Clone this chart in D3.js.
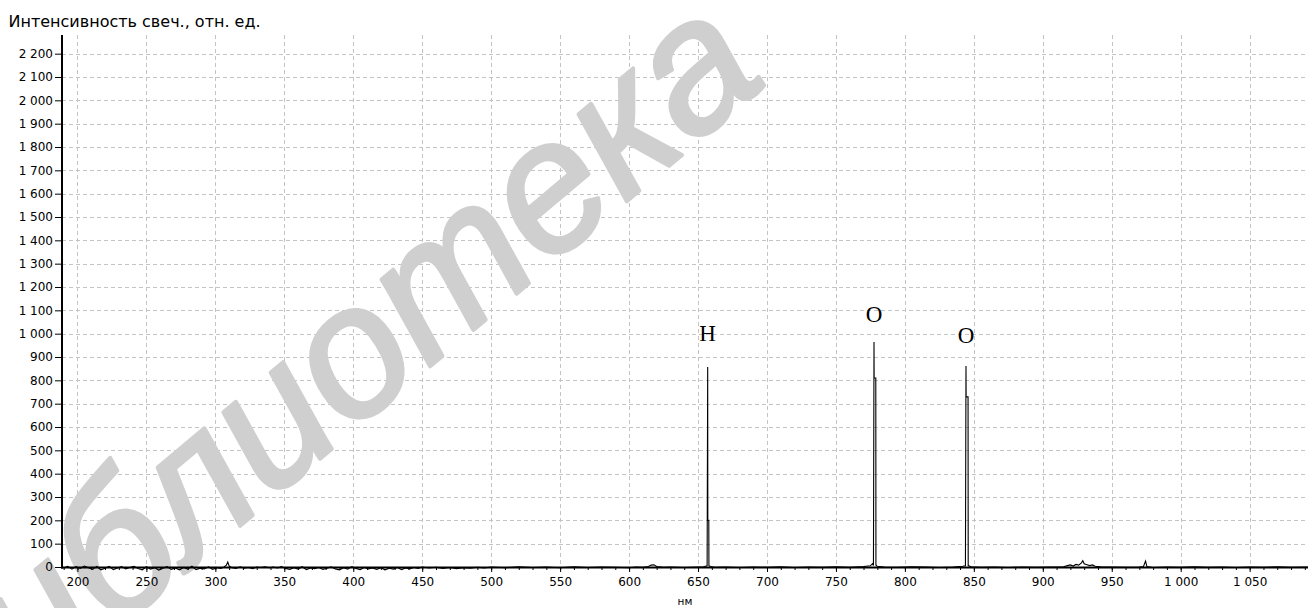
<!DOCTYPE html>
<html>
<head>
<meta charset="utf-8">
<script src="https://cdn.jsdelivr.net/npm/d3@7"></script>
<style>
  html, body { margin: 0; padding: 0; background: #fff; }
  svg { display: block; }
</style>
</head>
<body>
<svg id="chart" width="1315" height="608"></svg>
<script>
// Emission spectrum: wavelength (nm) and relative intensity
const spectrumNm = [
  190, 193, 196, 199, 202, 205, 208, 211, 214, 217, 220, 223, 226, 229, 232, 235, 238, 241, 244, 247,
  250, 253, 256, 259, 262, 265, 268, 271, 274, 277, 280, 283, 286, 289, 292, 295, 298, 301, 304, 306,
  308, 309, 310, 312, 315, 318, 321, 324, 327, 330, 333, 336, 339, 342, 345, 348, 351, 354, 357, 360,
  363, 366, 369, 372, 375, 378, 381, 384, 387, 390, 393, 396, 399, 402, 405, 408, 411, 414, 417, 420,
  423, 426, 429, 432, 435, 438, 441, 444, 447, 450, 455, 460, 465, 470, 475, 480, 485, 490, 495, 500,
  510, 520, 530, 540, 550, 560, 570, 580, 590, 600, 605, 610, 614, 616, 618, 620, 625, 630, 640, 650,
  654, 656.6, 657.0, 657.1, 657.8, 657.9, 659, 662, 670, 680, 690, 700, 710, 720, 730, 740, 750, 760, 770, 775,
  776.5, 777.2, 777.6, 777.7, 778.9, 779.0, 780, 785, 795, 805, 815, 825, 835, 842, 843.9, 844.3, 844.4, 845.8, 845.9, 848,
  855, 865, 875, 885, 895, 905, 915, 918, 920, 922, 924, 926, 928, 929, 930, 932, 934, 936, 938, 942,
  950, 960, 970, 973, 974.5, 975.5, 980, 990, 1000, 1010, 1020, 1030, 1040, 1050, 1060, 1070, 1080, 1092
];
const spectrumI = [
  -4, 3, -9, 2, -6, 4, -3, -10, 2, -12, -5, 3, -11, -4, 2, -8, -2, 3, -6, -12,
  1, -9, -3, -13, -5, 2, -10, -4, -12, -2, -9, 3, -11, -5, -8, 1, -10, -3, -6, -1,
  8, 21, 4, -3, -6, 1, -5, -2, -7, 0, -2, 1, -3, 0, -4, 2, -6, -10, -3, -9,
  1, -11, -4, -7, -2, -10, -5, 1, -8, -12, -3, -9, 2, -6, -11, -2, -8, -4, -10, -3,
  -12, -5, -9, -2, -11, -4, -8, -2, -6, 0, -4, -1, -6, -2, -7, -3, -5, -1, -4, 0,
  -3, 1, -2, 0, -3, 1, -2, 0, -1, -3, 0, -1, 2, 8, 9, 2, -1, 0, -2, 0,
  1, 5, 857, 200, 200, 6, 2, -1, 0, -2, 0, -1, 1, -2, 0, -1, 1, -1, 2, 5,
  14, 6, 964, 810, 810, 8, 3, 0, -1, 1, 0, -2, 0, 3, 5, 861, 729, 729, 6, 1,
  -1, 0, -2, 0, -1, 0, 1, 6, 9, 4, 11, 8, 18, 27, 14, 10, 6, 9, 3, 1,
  0, -1, 0, 2, 25, 2, -2, 0, -1, 1, -1, 0, -2, 0, -1, 1, -1, 0
];

// Identified emission lines
const peakNames = ["H", "O", "O"];
const peakNm = [657.0, 777.6, 844.3];
const peakLabelAt = [970, 1048, 958];

// Axis ticks
const xTicks = [200, 250, 300, 350, 400, 450, 500, 550, 600, 650, 700, 750, 800, 850, 900, 950, 1000, 1050];
const xMinorTicks = d3.range(190, 1091, 10);
const yTicks = [0, 100, 200, 300, 400, 500, 600, 700, 800, 900, 1000, 1100,
                1200, 1300, 1400, 1500, 1600, 1700, 1800, 1900, 2000, 2100, 2200];

const yTitle = "Интенсивность свеч., отн. ед.";
const xTitle = "нм";
const watermark = "библиотека";

const svg = d3.select("#chart");
const plotLeft = 62, plotRight = 1308, plotTop = 35, plotBottom = 567;

const x = d3.scaleLinear().domain([188.8, 1092.3]).range([plotLeft, plotRight]);
const y = d3.scaleLinear().domain([0, 2280]).range([plotBottom, plotTop]);

const ru = d3.formatLocale({ decimal: ",", thousands: "\u00a0", grouping: [3], currency: ["", ""] });
const fmt = ru.format(",d");

const uiFont = "'DejaVu Sans', Verdana, sans-serif";

// Dashed grid
const grid = svg.append("g").attr("stroke", "#c4c4c4").attr("stroke-width", 1)
  .attr("stroke-dasharray", "4,3").attr("shape-rendering", "crispEdges");
grid.selectAll("line.h").data(yTicks.filter(d => d > 0)).join("line")
  .attr("class", "h")
  .attr("x1", plotLeft).attr("x2", plotRight)
  .attr("y1", d => Math.round(y(d)) + 0.5).attr("y2", d => Math.round(y(d)) + 0.5);
grid.selectAll("line.v").data(xTicks).join("line")
  .attr("class", "v")
  .attr("y1", plotTop).attr("y2", plotBottom)
  .attr("x1", d => Math.round(x(d)) + 0.5).attr("x2", d => Math.round(x(d)) + 0.5);

// Library mark across the plot
svg.append("text")
  .attr("transform", "translate(-45,765) rotate(-40)")
  .attr("font-family", "'Liberation Sans', Arial, sans-serif")
  .attr("font-size", 185).attr("font-style", "italic")
  .attr("fill", "#cfcfcf").attr("stroke", "#cfcfcf").attr("stroke-width", 4)
  .attr("stroke-linejoin", "round")
  .text(watermark);

// Spectrum trace
const pts = spectrumNm.map((d, i) => [d, spectrumI[i]]);
svg.append("path")
  .datum(pts)
  .attr("fill", "none").attr("stroke", "#000").attr("stroke-width", 1.1)
  .attr("d", d3.line().x(d => x(d[0])).y(d => y(d[1])));

// Axes
const xAxis = svg.append("g").attr("transform", `translate(0,${plotBottom})`);
xAxis.append("g").call(d3.axisBottom(x).tickValues(xMinorTicks).tickSize(3).tickFormat(""))
  .call(g => g.select(".domain").remove());
xAxis.append("g").call(d3.axisBottom(x).tickValues(xTicks).tickSize(5).tickPadding(5).tickFormat(fmt))
  .call(g => g.select(".domain").remove())
  .call(g => g.selectAll("text").attr("font-family", uiFont).attr("font-size", 12).attr("fill", "#000"));
xAxis.selectAll("line").attr("stroke", "#000");

const yAxis = svg.append("g").attr("transform", `translate(${plotLeft},0)`);
yAxis.call(d3.axisLeft(y).tickValues(yTicks).tickSize(7).tickPadding(2).tickFormat(fmt))
  .call(g => g.select(".domain").remove())
  .call(g => g.selectAll("text").attr("font-family", uiFont).attr("font-size", 12).attr("fill", "#000"));
yAxis.selectAll("line").attr("stroke", "#000");

svg.append("line").attr("x1", plotLeft - 1).attr("x2", plotRight)
  .attr("y1", plotBottom + 0.5).attr("y2", plotBottom + 0.5)
  .attr("stroke", "#000").attr("stroke-width", 2);
svg.append("line").attr("x1", plotLeft).attr("x2", plotLeft)
  .attr("y1", plotTop).attr("y2", plotBottom + 1.5)
  .attr("stroke", "#000").attr("stroke-width", 2);

// Titles
svg.append("text").attr("x", 8.5).attr("y", 26.5)
  .attr("font-family", uiFont).attr("font-size", 16).attr("fill", "#000")
  .text(yTitle);
svg.append("text").attr("x", 685).attr("y", 605)
  .attr("text-anchor", "middle")
  .attr("font-family", uiFont).attr("font-size", 10.5).attr("fill", "#000")
  .text(xTitle);

// Element labels above the lines
svg.selectAll("text.peak").data(peakNames).join("text")
  .attr("class", "peak")
  .attr("x", (d, i) => x(peakNm[i]))
  .attr("y", (d, i) => y(peakLabelAt[i]))
  .attr("text-anchor", "middle")
  .attr("font-family", "'Liberation Serif', 'Times New Roman', serif")
  .attr("font-size", 23).attr("fill", "#000")
  .text(d => d);
</script>
</body>
</html>
